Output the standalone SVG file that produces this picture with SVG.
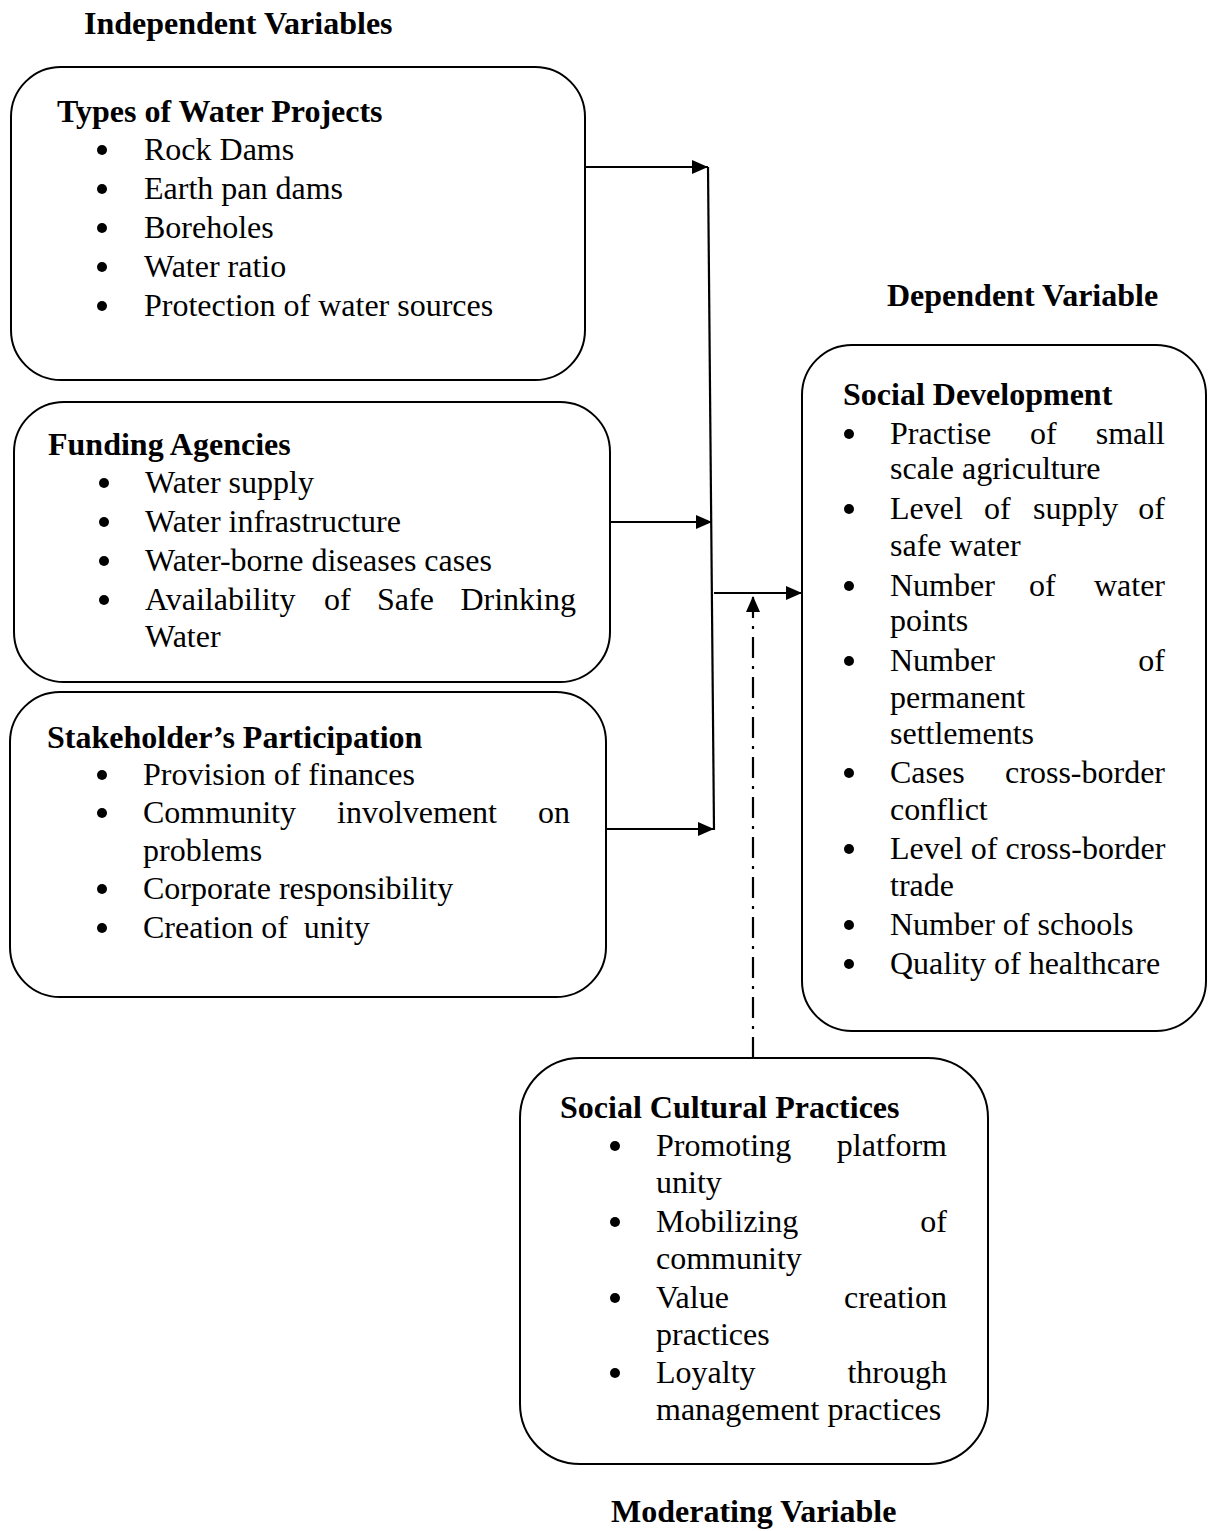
<svg xmlns="http://www.w3.org/2000/svg" width="1208" height="1531" viewBox="0 0 1208 1531">
<style>
  text { font-family: "Liberation Serif", "Times New Roman", serif; font-size: 32px; fill: #000; }
  .h { font-weight: bold; }
  .box { fill: #fff; stroke: #000; stroke-width: 2; }
  .b { fill: #000; }
  .end { text-anchor: end; }
  .conn { stroke: #000; stroke-width: 2.2; fill: none; }
  .dd { stroke-dasharray: 21 8 3 8; }
</style>
<defs>
  <marker id="arr" markerUnits="userSpaceOnUse" markerWidth="18" markerHeight="14" refX="16" refY="7" orient="auto">
    <path d="M0,0 L16,7 L0,14 Z" fill="#000"/>
  </marker>
</defs>
<rect width="1208" height="1531" fill="#fff"/>

<text class="h" x="84" y="34">Independent Variables</text>
<text class="h" x="887" y="306">Dependent Variable</text>
<text class="h" x="611" y="1522">Moderating Variable</text>

<g id="connectors">
  <line class="conn" x1="585" y1="167" x2="708" y2="167" marker-end="url(#arr)"/>
  <line class="conn" x1="708" y1="167" x2="714" y2="830"/>
  <line class="conn" x1="610" y1="522" x2="712" y2="522" marker-end="url(#arr)"/>
  <line class="conn" x1="606" y1="829" x2="714" y2="829" marker-end="url(#arr)"/>
  <line class="conn" x1="714" y1="593" x2="802" y2="593" marker-end="url(#arr)"/>
  <line class="conn dd" x1="753" y1="1058" x2="753" y2="596" marker-end="url(#arr)"/>
</g>

<g id="types-of-water-projects">
  <rect class="box" x="11" y="67" width="574" height="313" rx="50"/>
  <text class="h" x="57" y="122">Types of Water Projects</text>
  <circle class="b" cx="102" cy="150" r="5"/><text x="144" y="160">Rock Dams</text>
  <circle class="b" cx="102" cy="189" r="5"/><text x="144" y="199">Earth pan dams</text>
  <circle class="b" cx="102" cy="228" r="5"/><text x="144" y="238">Boreholes</text>
  <circle class="b" cx="102" cy="267" r="5"/><text x="144" y="277">Water ratio</text>
  <circle class="b" cx="102" cy="306" r="5"/><text x="144" y="316">Protection of water sources</text>
</g>

<g id="funding-agencies">
  <rect class="box" x="14" y="402" width="596" height="280" rx="50"/>
  <text class="h" x="48" y="455">Funding Agencies</text>
  <circle class="b" cx="104" cy="483" r="5"/><text x="145" y="493">Water supply</text>
  <circle class="b" cx="104" cy="522" r="5"/><text x="145" y="532">Water infrastructure</text>
  <circle class="b" cx="104" cy="561" r="5"/><text x="145" y="571">Water-borne diseases cases</text>
  <circle class="b" cx="104" cy="600" r="5"/>
  <text x="145" y="610">Availability</text><text x="324" y="610">of</text><text x="377" y="610">Safe</text><text class="end" x="576" y="610">Drinking</text>
  <text x="145" y="647">Water</text>
</g>

<g id="stakeholders-participation">
  <rect class="box" x="10" y="692" width="596" height="305" rx="50"/>
  <text class="h" x="47" y="748">Stakeholder’s Participation</text>
  <circle class="b" cx="102" cy="775" r="5"/><text x="143" y="785">Provision of finances</text>
  <circle class="b" cx="102" cy="813" r="5"/>
  <text x="143" y="823">Community</text><text x="337" y="823">involvement</text><text class="end" x="570" y="823">on</text>
  <text x="143" y="861">problems</text>
  <circle class="b" cx="102" cy="889" r="5"/><text x="143" y="899">Corporate responsibility</text>
  <circle class="b" cx="102" cy="928" r="5"/><text x="143" y="938" xml:space="preserve">Creation of  unity</text>
</g>

<g id="social-development">
  <rect class="box" x="802" y="345" width="404" height="686" rx="50"/>
  <text class="h" x="843" y="405">Social Development</text>
  <circle class="b" cx="849" cy="434" r="5"/>
  <text x="890" y="444">Practise</text><text x="1030" y="444">of</text><text class="end" x="1165" y="444">small</text>
  <text x="890" y="479">scale agriculture</text>
  <circle class="b" cx="849" cy="509" r="5"/>
  <text x="890" y="519">Level</text><text x="984" y="519">of</text><text x="1033" y="519">supply</text><text class="end" x="1165" y="519">of</text>
  <text x="890" y="556">safe water</text>
  <circle class="b" cx="849" cy="586" r="5"/>
  <text x="890" y="596">Number</text><text x="1029" y="596">of</text><text class="end" x="1165" y="596">water</text>
  <text x="890" y="631">points</text>
  <circle class="b" cx="849" cy="661" r="5"/>
  <text x="890" y="671">Number</text><text class="end" x="1165" y="671">of</text>
  <text x="890" y="708">permanent</text>
  <text x="890" y="744">settlements</text>
  <circle class="b" cx="849" cy="773" r="5"/>
  <text x="890" y="783">Cases</text><text class="end" x="1165" y="783">cross-border</text>
  <text x="890" y="820">conflict</text>
  <circle class="b" cx="849" cy="849" r="5"/><text x="890" y="859">Level of cross-border</text>
  <text x="890" y="896">trade</text>
  <circle class="b" cx="849" cy="925" r="5"/><text x="890" y="935">Number of schools</text>
  <circle class="b" cx="849" cy="964" r="5"/><text x="890" y="974">Quality of healthcare</text>
</g>

<g id="social-cultural-practices">
  <rect class="box" x="520" y="1058" width="468" height="406" rx="60"/>
  <text class="h" x="560" y="1118">Social Cultural Practices</text>
  <circle class="b" cx="615" cy="1146" r="5"/>
  <text x="656" y="1156">Promoting</text><text class="end" x="947" y="1156">platform</text>
  <text x="656" y="1193">unity</text>
  <circle class="b" cx="615" cy="1222" r="5"/>
  <text x="656" y="1232">Mobilizing</text><text class="end" x="947" y="1232">of</text>
  <text x="656" y="1269">community</text>
  <circle class="b" cx="615" cy="1298" r="5"/>
  <text x="656" y="1308">Value</text><text class="end" x="947" y="1308">creation</text>
  <text x="656" y="1345">practices</text>
  <circle class="b" cx="615" cy="1373" r="5"/>
  <text x="656" y="1383">Loyalty</text><text class="end" x="947" y="1383">through</text>
  <text x="656" y="1420">management practices</text>
</g>
</svg>
